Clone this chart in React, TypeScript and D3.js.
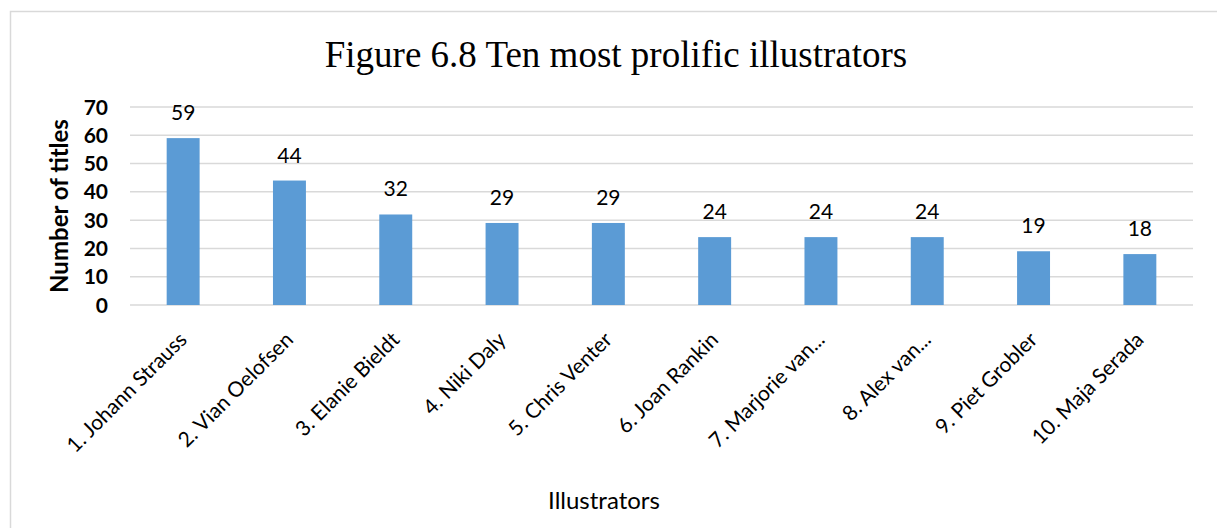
import React from "react";
import * as d3 from "d3";

const categories = [
  "1. Johann Strauss",
  "2. Vian Oelofsen",
  "3. Elanie Bieldt",
  "4. Niki Daly",
  "5. Chris Venter",
  "6. Joan Rankin",
  "7. Marjorie van...",
  "8. Alex van...",
  "9. Piet Grobler",
  "10. Maja Serada",
];
const values = [59, 44, 32, 29, 29, 24, 24, 24, 19, 18];
const yTicks = [0, 10, 20, 30, 40, 50, 60, 70];

const W = 1217;
const H = 528;
const plot = { left: 130, right: 1193, top: 107, bottom: 305 };

export default function App() {
  const x = d3
    .scaleBand<string>()
    .domain(categories)
    .range([plot.left, plot.right])
    .paddingInner(0.69)
    .paddingOuter(0.345);
  const y = d3.scaleLinear().domain([0, 70]).range([plot.bottom, plot.top]);
  const sans = "Lato, 'Open Sans', sans-serif";

  return (
    <svg
      width={W}
      height={H}
      style={{ position: "absolute", left: 0, top: 0, background: "#fff" }}
    >
      <rect x={10.5} y={11.5} width={W} height={H} fill="#fff" stroke="#D9D9D9" strokeWidth={1.5} />
      <text
        x={616}
        y={67}
        textAnchor="middle"
        fontFamily="'Liberation Serif', 'Times New Roman', serif"
        fontSize={37}
        fill="#000"
      >
        Figure 6.8 Ten most prolific illustrators
      </text>
      {yTicks.map((t) => (
        <g key={t}>
          <line
            x1={plot.left}
            x2={plot.right}
            y1={y(t)}
            y2={y(t)}
            stroke="#D9D9D9"
            strokeWidth={1.5}
          />
          <text
            x={108}
            y={y(t)}
            dy="0.36em"
            textAnchor="end"
            fontFamily={sans}
            fontWeight="bold"
            fontSize={21}
            fill="#000"
          >
            {t}
          </text>
        </g>
      ))}
      {categories.map((c, i) => {
        const bx = x(c)!;
        const bw = x.bandwidth();
        const cx = bx + bw / 2;
        return (
          <g key={c}>
            <rect x={bx} y={y(values[i])} width={bw} height={plot.bottom - y(values[i])} fill="#5B9BD5" />
            <text
              x={cx}
              y={y(values[i]) - 18}
              textAnchor="middle"
              fontFamily={sans}
              fontSize={21}
              fill="#000"
            >
              {values[i]}
            </text>
            <text
              transform={`translate(${cx + 5},${plot.bottom + 36}) rotate(-45)`}
              textAnchor="end"
              fontFamily={sans}
              fontSize={21}
              fill="#000"
            >
              {c}
            </text>
          </g>
        );
      })}
      <text
        transform={`translate(68,${(plot.top + plot.bottom) / 2}) rotate(-90)`}
        textAnchor="middle"
        fontFamily={sans}
        fontWeight="bold"
        fontSize={24}
        fill="#000"
      >
        Number of titles
      </text>
      <text x={604} y={509} textAnchor="middle" fontFamily={sans} fontSize={24} fill="#000">
        Illustrators
      </text>
    </svg>
  );
}
